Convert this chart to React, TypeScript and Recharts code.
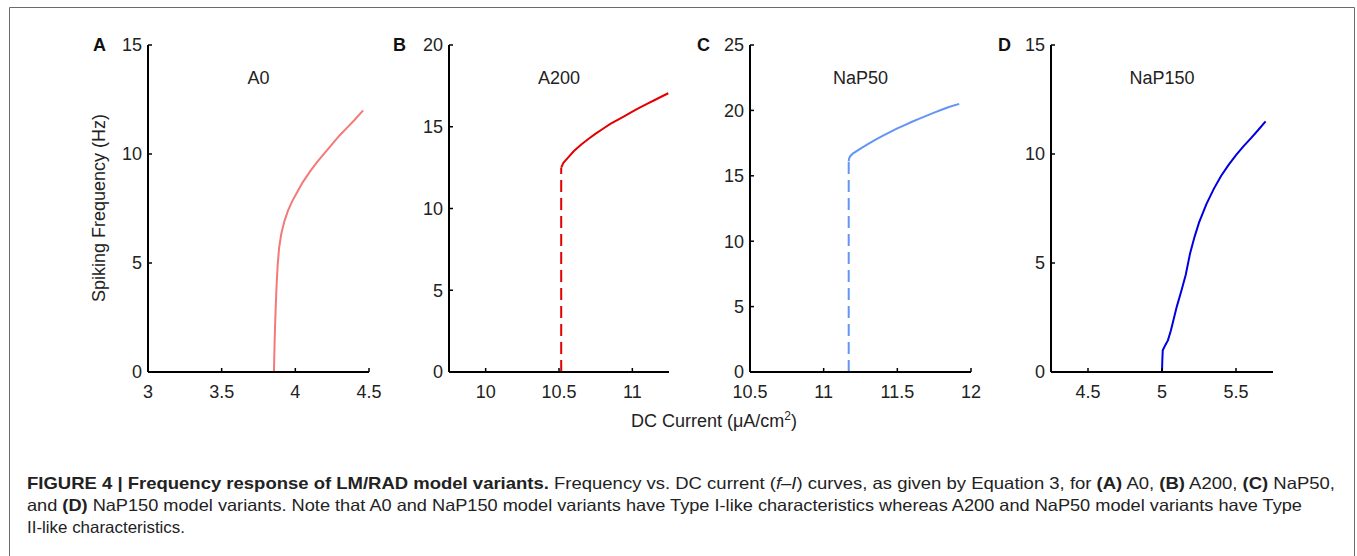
import React from 'react';
import { LineChart, Line, XAxis, YAxis } from 'recharts';

// ---------- data ----------
const A0_X = [3.855, 3.858, 3.862, 3.867, 3.873, 3.88, 3.89, 3.905, 3.925, 3.95, 3.98, 4.0, 4.05, 4.1, 4.15, 4.2, 4.25, 4.3, 4.35, 4.4, 4.46];
const A0_Y = [0, 1, 2, 3, 4, 4.9, 5.7, 6.35, 6.9, 7.4, 7.85, 8.1, 8.7, 9.2, 9.65, 10.05, 10.45, 10.85, 11.2, 11.55, 12.0];

const A200_DASH_X = [10.515, 10.515];
const A200_DASH_Y = [0, 12.5];
const A200_X = [10.515, 10.53, 10.56, 10.6, 10.65, 10.7, 10.75, 10.8, 10.85, 10.9, 10.95, 11.0, 11.05, 11.1, 11.15, 11.2, 11.245];
const A200_Y = [12.5, 12.8, 13.1, 13.5, 13.9, 14.25, 14.58, 14.88, 15.17, 15.42, 15.67, 15.92, 16.17, 16.4, 16.62, 16.85, 17.05];

const NAP50_DASH_X = [11.17, 11.17];
const NAP50_DASH_Y = [0, 16.1];
const NAP50_X = [11.17, 11.172, 11.18, 11.2, 11.25, 11.3, 11.35, 11.4, 11.45, 11.5, 11.55, 11.6, 11.65, 11.7, 11.75, 11.8, 11.85, 11.92];
const NAP50_Y = [16.1, 16.3, 16.5, 16.72, 17.08, 17.42, 17.75, 18.05, 18.34, 18.62, 18.88, 19.13, 19.37, 19.6, 19.83, 20.05, 20.26, 20.5];

const NAP150_X = [5.0, 5.002, 5.005, 5.02, 5.04, 5.06, 5.08, 5.1, 5.13, 5.16, 5.19, 5.22, 5.25, 5.3, 5.35, 5.4, 5.45, 5.5, 5.55, 5.6, 5.65, 5.7];
const NAP150_Y = [0, 0.5, 1.0, 1.2, 1.45, 1.9, 2.45, 3.0, 3.7, 4.45, 5.45, 6.2, 6.85, 7.7, 8.4, 9.0, 9.5, 9.95, 10.35, 10.72, 11.1, 11.5];

const X_TICKS_A = [3, 3.5, 4, 4.5];
const X_TICKS_B = [10, 10.5, 11];
const X_TICKS_C = [10.5, 11, 11.5, 12];
const X_TICKS_D = [4.5, 5, 5.5];
const Y_TICKS_A = [0, 5, 10, 15];
const Y_TICKS_B = [0, 5, 10, 15, 20];
const Y_TICKS_C = [0, 5, 10, 15, 20, 25];
const Y_TICKS_D = [0, 5, 10, 15];

const PANEL_LETTERS = ['A', 'B', 'C', 'D'];
const PANEL_TITLES = ['A0', 'A200', 'NaP50', 'NaP150'];

const zip = (xs: number[], ys: number[]) => xs.map((x, i) => ({ x, y: ys[i] }));

const FONT = '"Liberation Sans", Arial, Helvetica, sans-serif';
const PLOT_TOP = 45;
const PLOT_H = 327;

type Series = { data: { x: number; y: number }[]; color: string; dash?: string };
type PanelCfg = {
  left: number;
  width: number;
  xDomain: [number, number];
  xTicks: number[];
  yDomain: [number, number];
  yTicks: number[];
  series: Series[];
};

const panels: PanelCfg[] = [
  {
    left: 148, width: 221, xDomain: [3, 4.5], xTicks: X_TICKS_A, yDomain: [0, 15], yTicks: Y_TICKS_A,
    series: [{ data: zip(A0_X, A0_Y), color: '#f47a7a' }],
  },
  {
    left: 449, width: 220, xDomain: [9.75, 11.25], xTicks: X_TICKS_B, yDomain: [0, 20], yTicks: Y_TICKS_B,
    series: [
      { data: zip(A200_DASH_X, A200_DASH_Y), color: '#e30000', dash: '12 6' },
      { data: zip(A200_X, A200_Y), color: '#e30000' },
    ],
  },
  {
    left: 750, width: 221, xDomain: [10.5, 12], xTicks: X_TICKS_C, yDomain: [0, 25], yTicks: Y_TICKS_C,
    series: [
      { data: zip(NAP50_DASH_X, NAP50_DASH_Y), color: '#6495f5', dash: '12 6' },
      { data: zip(NAP50_X, NAP50_Y), color: '#6495f5' },
    ],
  },
  {
    left: 1051, width: 222, xDomain: [4.25, 5.75], xTicks: X_TICKS_D, yDomain: [0, 15], yTicks: Y_TICKS_D,
    series: [{ data: zip(NAP150_X, NAP150_Y), color: '#0000e0' }],
  },
];

const tickStyle = { fill: '#222', fontSize: 18, fontFamily: FONT };
const axisLine = { stroke: '#000', strokeWidth: 2 };
const tickLine = { stroke: '#000', strokeWidth: 1.5 };
const blank = () => '';

function Panel({ cfg }: { cfg: PanelCfg }) {
  return (
    <div style={{ position: 'absolute', left: cfg.left - 60, top: PLOT_TOP - 10 }}>
      <LineChart
        width={cfg.width + 90}
        height={PLOT_H + 50}
        margin={{ top: 10, right: 30, left: 0, bottom: 0 }}
        style={{ fontFamily: FONT }}
      >
        <XAxis
          xAxisId="b"
          dataKey="x"
          type="number"
          domain={cfg.xDomain}
          ticks={cfg.xTicks}
          interval={0}
          allowDataOverflow
          height={40}
          tickSize={-4}
          tickMargin={17.5}
          tick={tickStyle}
          axisLine={axisLine}
          tickLine={tickLine}
        />
        <XAxis
          xAxisId="t"
          orientation="top"
          dataKey="x"
          type="number"
          domain={cfg.xDomain}
          ticks={cfg.xTicks}
          interval={0}
          allowDataOverflow
          height={0}
          tickSize={-4}
          tickFormatter={blank}
          axisLine={axisLine}
          tickLine={tickLine}
        />
        <YAxis
          yAxisId="l"
          type="number"
          domain={cfg.yDomain}
          ticks={cfg.yTicks}
          interval={0}
          allowDataOverflow
          width={60}
          tickSize={-4}
          tickMargin={10}
          tick={tickStyle}
          axisLine={axisLine}
          tickLine={tickLine}
        />
        <YAxis
          yAxisId="r"
          orientation="right"
          type="number"
          domain={cfg.yDomain}
          ticks={cfg.yTicks}
          interval={0}
          allowDataOverflow
          width={0}
          tickSize={-4}
          tickFormatter={blank}
          axisLine={axisLine}
          tickLine={tickLine}
        />
        {cfg.series.map((s, i) => (
          <Line
            key={i}
            xAxisId="b"
            yAxisId="l"
            data={s.data}
            dataKey="y"
            type="linear"
            stroke={s.color}
            strokeWidth={2}
            strokeDasharray={s.dash}
            dot={false}
            activeDot={false}
            isAnimationActive={false}
          />
        ))}
      </LineChart>
    </div>
  );
}

const LETTER_X = [93, 393, 697, 998];

export default function App() {
  return (
    <div style={{ position: 'absolute', left: 0, top: 0, width: 1357, height: 556, background: '#fff', overflow: 'hidden' }}>
      <svg width={1357} height={556} style={{ position: 'absolute', left: 0, top: 0 }} fontFamily={FONT}>
        {/* figure frame */}
        <path d="M9.5 556 V7.5 H1354.5 V556" fill="none" stroke="#6b6b6b" strokeWidth={1} />
        {panels.map((p, i) => (
          <g key={i}>
            <text x={LETTER_X[i]} y={51} fontSize={18} fontWeight="bold" fill="#111">{PANEL_LETTERS[i]}</text>
            <text x={p.left + p.width / 2} y={84} fontSize={18} textAnchor="middle" fill="#222">{PANEL_TITLES[i]}</text>
          </g>
        ))}
        <text x={105} y={208} fontSize={18} textAnchor="middle" fill="#222" transform="rotate(-90 105 208)">
          Spiking Frequency (Hz)
        </text>
        <text x={714} y={427} fontSize={18} textAnchor="middle" fill="#222">
          DC Current (μA/cm<tspan dy={-7} fontSize={12}>2</tspan><tspan dy={7}>)</tspan>
        </text>
        <g fontFamily={FONT} fontSize={16.5} fill="#222">
          <text x={27} y={489} textLength={1308} lengthAdjust="spacingAndGlyphs">
            <tspan fontWeight="bold">FIGURE 4 | Frequency response of LM/RAD model variants.</tspan> Frequency vs. DC current (<tspan fontStyle="italic">f</tspan>–<tspan fontStyle="italic">I</tspan>) curves, as given by Equation 3, for <tspan fontWeight="bold">(A)</tspan> A0, <tspan fontWeight="bold">(B)</tspan> A200, <tspan fontWeight="bold">(C)</tspan> NaP50,
          </text>
          <text x={27} y={511} textLength={1275} lengthAdjust="spacingAndGlyphs">
            and <tspan fontWeight="bold">(D)</tspan> NaP150 model variants. Note that A0 and NaP150 model variants have Type I-like characteristics whereas A200 and NaP50 model variants have Type
          </text>
          <text x={27} y={533} textLength={158} lengthAdjust="spacingAndGlyphs">II-like characteristics.</text>
        </g>
      </svg>
      {panels.map((p, i) => (
        <Panel key={i} cfg={p} />
      ))}
    </div>
  );
}
